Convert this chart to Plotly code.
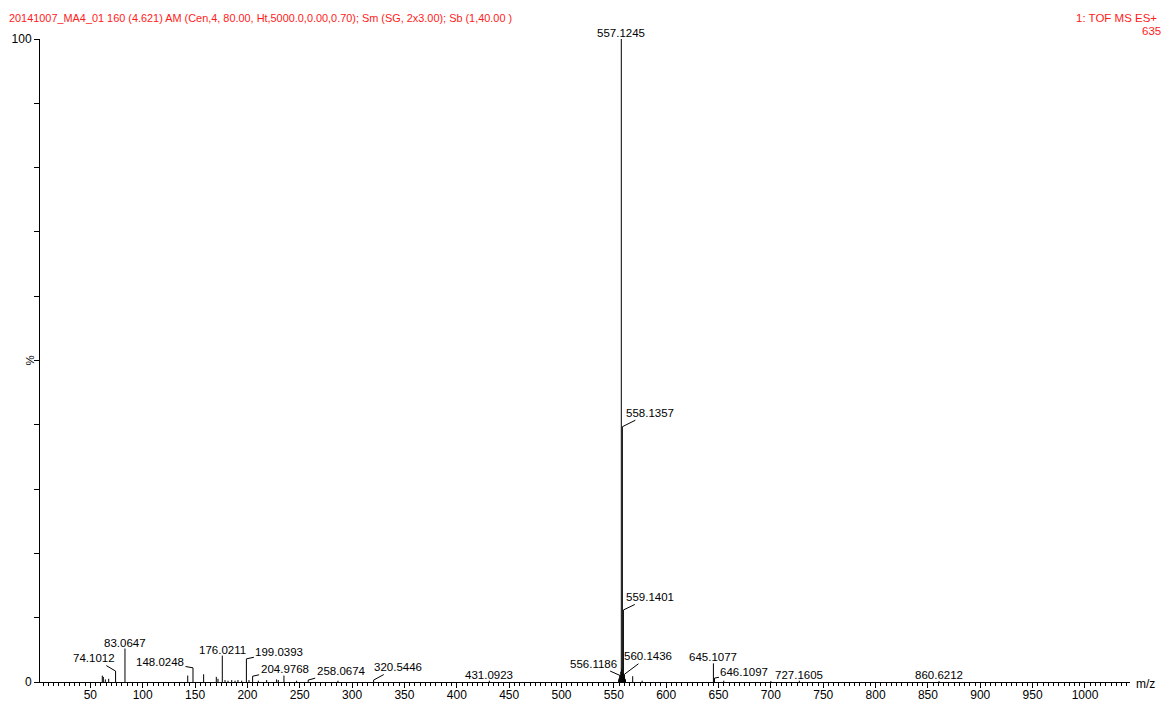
import plotly.graph_objects as go

# Centroided peak list (m/z, relative intensity %)
labeled_mz = [557.1245, 558.1357, 559.1401, 560.1436, 556.1186,
              83.0647, 74.1012, 148.0248, 176.0211, 199.0393,
              204.9768, 258.0674, 320.5446, 431.0923,
              645.1077, 646.1097, 727.1605, 860.6212]
labeled_int = [100.0, 39.7, 11.2, 1.2, 1.0,
               5.2, 1.7, 2.2, 4.1, 3.6,
               0.9, 0.3, 0.3, 0.2,
               2.9, 0.6, 0.2, 0.15]

minor_mz = [61.4, 62.4, 64.3, 67.5, 143.0, 158.2, 170.3, 171.9, 178.6,
            181.5, 185.0, 188.2, 191.0, 194.5, 201.5, 210.4, 218.4,
            227.9, 229.5, 234.9, 247.0, 286.5, 554.6, 555.1, 555.6,
            556.6, 557.6, 558.6, 559.6, 560.6, 561.1, 568.0, 577.0,
            655.0, 700.0]
minor_int = [1.0, 0.8, 0.4, 0.5, 1.0, 1.2, 0.8, 0.5, 0.3,
             0.2, 0.3, 0.2, 0.3, 0.2, 0.3, 0.2, 0.3,
             0.4, 0.3, 1.0, 0.2, 0.2, 0.4, 0.6, 1.0,
             1.6, 2.0, 1.4, 0.8, 0.5, 0.4, 0.9, 0.2,
             0.2, 0.15]

x_ticks = list(range(50, 1001, 50))

header = ("20141007_MA4_01 160 (4.621) AM (Cen,4, 80.00, Ht,5000.0,0.00,0.70); "
          "Sm (SG, 2x3.00); Sb (1,40.00 )")
func_line = "1: TOF MS ES+"
base_count = "635"

# Label leader offsets in pixels (text centre relative to the peak top);
# None means the label sits directly above its stick.
label_offsets = [None, (28, -14), (27, -13), (24, -18), (-27, -12),
                 None, (-22, -13), (-33, -6), None, (33, -7),
                 (32, -7), (33, -9), (24, -13), None,
                 None, (30, -6), None, None]

FONT = "Liberation Sans, Arial, sans-serif"
LABEL_SIZE = 11.5

all_mz = labeled_mz + minor_mz
all_int = labeled_int + minor_int
xs, ys = [], []
for m, i in zip(all_mz, all_int):
    xs += [m, m, None]
    ys += [0, i, None]

fig = go.Figure()
fig.add_trace(go.Scatter(x=xs, y=ys, mode="lines",
                         line=dict(color="black", width=1),
                         hoverinfo="skip", showlegend=False))

annotations = []
for m, i, off in zip(labeled_mz, labeled_int, label_offsets):
    txt = f"{m:.4f}"
    if off is None:
        annotations.append(dict(x=m, y=i, xref="x", yref="y", text=txt,
                                showarrow=False, xanchor="center",
                                yanchor="bottom", yshift=-2,
                                font=dict(size=LABEL_SIZE, color="black", family=FONT)))
    else:
        annotations.append(dict(x=m, y=i, xref="x", yref="y", text=txt,
                                showarrow=True, arrowhead=0, arrowwidth=1,
                                arrowcolor="black", ax=off[0], ay=off[1],
                                standoff=0,
                                font=dict(size=LABEL_SIZE, color="black", family=FONT)))

annotations += [
    dict(x=0, y=1, xref="paper", yref="paper", text=header, showarrow=False,
         xanchor="left", yanchor="middle", xshift=-33, yshift=21,
         font=dict(size=10.9, color="#ff1a1a", family=FONT)),
    dict(x=1, y=1, xref="paper", yref="paper", text=func_line, showarrow=False,
         xanchor="right", yanchor="middle", xshift=29, yshift=21,
         font=dict(size=11.5, color="#ff1a1a", family=FONT)),
    dict(x=1, y=1, xref="paper", yref="paper", text=base_count, showarrow=False,
         xanchor="right", yanchor="middle", xshift=33, yshift=8,
         font=dict(size=11.5, color="#ff1a1a", family=FONT)),
    dict(x=1, y=0, xref="paper", yref="paper", text="m/z", showarrow=False,
         xanchor="left", yanchor="middle", xshift=4, yshift=-2,
         font=dict(size=12, color="black", family=FONT)),
    dict(x=0, y=50, xref="paper", yref="y", text="%", showarrow=False,
         xanchor="center", yanchor="middle", xshift=-11, textangle=-90,
         font=dict(size=11.5, color="black", family=FONT)),
]

fig.update_layout(
    width=1164, height=705,
    margin=dict(l=40, r=34, t=39, b=23),
    paper_bgcolor="white", plot_bgcolor="white",
    font=dict(family=FONT, color="black"),
    annotations=annotations,
    xaxis=dict(range=[1.9, 1043], tickvals=x_ticks, automargin=False,
               showgrid=False, zeroline=False,
               showline=True, linecolor="black", linewidth=1,
               ticks="outside", ticklen=5, tickcolor="black", tickwidth=1,
               ticklabelstandoff=-3,
               minor=dict(dtick=5, tick0=0, ticks="outside", ticklen=3,
                          tickcolor="black", showgrid=False),
               tickfont=dict(size=12, family=FONT, color="black")),
    yaxis=dict(range=[0, 100], tickvals=list(range(0, 101, 10)),
               ticktext=["0"] + [""] * 9 + ["100"], automargin=False,
               showgrid=False, zeroline=False,
               showline=True, linecolor="black", linewidth=1,
               ticks="outside", ticklen=5, tickcolor="black", tickwidth=1,
               tickfont=dict(size=12, family=FONT, color="black")),
)

fig.write_html("out.html")
